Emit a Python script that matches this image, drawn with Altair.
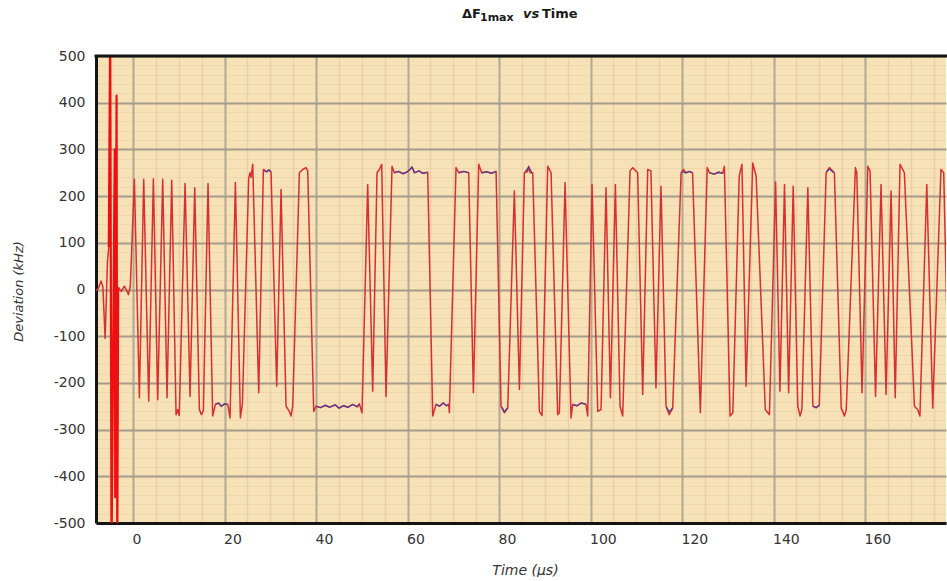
import altair as alt
import pandas as pd

# ---------------- data ----------------
# pre-burst noise (time in µs, deviation in kHz)
T_PRE = [-8.1, -7.6, -7.0, -6.6, -6.1, -5.6, -5.3]
V_PRE = [-3, 2, 18, 6, -105, 60, 90]

# start-up spike (clipped at ±500)
T_SPIKE = [-5.3, -5.0, -4.7, -4.0, -3.9, -3.6, -3.45, -3.25]
V_SPIKE = [90, 560, -560, 300, -445, 415, -560, 5]

# main red trace
T_MAIN = [
    -3.25, -2.6, -1.9, -1.5, -1.0, -0.6,
    0.29, 1.38, 2.33, 3.42, 4.44, 5.39, 6.48, 7.43, 8.45,
    9.4, 9.75, 10.1, 11.37, 12.46, 13.48, 14.5, 14.94, 15.37,
    16.39, 17.4, 18.0, 18.7, 19.3, 20.0, 20.7, 21.2,
    22.37, 23.46, 23.9, 25.28, 25.57, 25.8, 26.16, 27.47,
    28.49, 29.2, 29.7, 30.16, 31.4, 32.35,
    33.44, 34.17, 34.53, 34.9, 36.36, 37.08, 37.81, 38.18,
    39.49, 40.0, 41.0, 42.0, 43.0, 44.2, 45.0, 46.0, 47.0, 48.0, 49.0, 49.47, 50.05,
    51.29, 52.38, 53.33, 53.84, 54.35, 55.3,
    56.61, 57.12, 58.0, 59.0, 60.0, 61.0, 61.5, 62.5, 63.3, 64.41,
    65.5, 66.23, 67.0, 67.8, 68.5, 69.0, 69.14,
    70.6, 71.2, 72.3, 73.37, 74.39,
    75.56, 76.2, 77.3, 78.4, 79.35, 80.44, 81.17, 81.9,
    83.35, 84.45, 85.54, 86.2, 86.48, 86.8, 87.36,
    88.82, 89.4, 90.64, 91.37, 92.82, 93.19, 94.43,
    95.74, 96.1, 97.0, 98.0, 99.0, 99.38,
    100.33, 101.57, 102.3, 103.39,
    104.34, 105.43, 106.45, 107.03,
    108.64, 109.2, 110.3, 111.4, 112.5, 113.2, 114.3, 115.4,
    116.5, 117.2, 117.96,
    119.8, 120.3, 120.9, 121.6, 122.3, 124.0,
    125.5, 126.0, 127.0, 128.0, 128.9, 129.26,
    130.5, 131.1, 132.5, 133.1, 134.0, 135.45, 136.2,
    138.2, 139.1, 140.45,
    141.4, 142.4, 143.3, 144.3,
    145.3, 145.8, 146.2, 147.5,
    148.6, 149.3, 150.0, 151.5, 152.2, 153.3,
    154.8, 155.5, 155.9, 157.9, 158.2, 159.35,
    160.6, 161.1, 162.3, 163.5, 164.6, 165.7, 166.6,
    167.65, 168.6, 170.8, 171.5, 172.0,
    173.5, 174.8, 176.6, 177.2, 177.9,
]
V_MAIN = [
    5, -4, 7, 0, -11, 7,
    236, -232, 236, -239, 237, -236, 236, -232, 234,
    -268, -257, -270, 227, -229, 218, -257, -268, -259,
    227, -271, -246, -243, -250, -245, -246, -275,
    229, -275, -245, 239, 250, 240, 268, -221,
    257, 252, 256, 252, -207, 214,
    -250, -261, -271, -250, 250, 257, 261, 254,
    -261, -250, -253, -248, -252, -247, -254, -249, -252, -246, -251, -245, -264,
    225, -218, 250, 257, 268, -229,
    264, 250, 253, 248, 252, 262, 250, 254, 249, 251,
    -271, -246, -250, -243, -249, -246, -264,
    261, 250, 253, 250, -221,
    268, 250, 252, 249, 253, -250, -264, -254,
    211, -214, 250, 252, 264, 250, 250,
    -261, -270, 264, 250, -268, -264, 229,
    -275, -246, -249, -243, -246, -271,
    225, -261, -257, 218,
    -232, 225, -250, -271,
    254, 261, 250, -225, 257, 254, -211, 221,
    -250, -268, -254,
    250, 257, 250, 253, 250, -264,
    261, 250, 247, 251, 249, 264,
    -271, -264, 243, 268, -207, 271, 243,
    -257, -268, 230,
    -218, 225, -221, 221,
    -250, -271, -257, 218,
    -250, -253, -248, 250, 261, 250,
    -254, -271, -257, 261, 250, -221,
    264, 254, -229, 225, -225, 211, -232,
    268, 250, -250, -257, -271,
    225, -254, 257, 250, -60,
]

# second (blue/purple) trace, visible on the flat parts
P_SEG = [1] * 5 + [2] * 4 + [3] * 11 + [4] * 9 + [5] * 5 + [6] * 3 + [7] * 4 + [8] * 3 \
    + [9] * 4 + [10] * 4 + [11] * 4 + [12] * 3 + [13] * 3 + [14] * 3 + [15] * 3
P_T = [
    18.0, 18.7, 19.3, 20.0, 20.7,
    28.6, 29.2, 29.7, 30.1,
    40.0, 41.0, 42.0, 43.0, 44.2, 45.0, 46.0, 47.0, 48.0, 49.0, 49.4,
    57.1, 58.0, 59.0, 60.0, 61.0, 61.5, 62.5, 63.3, 64.3,
    66.3, 67.0, 67.8, 68.5, 69.0,
    71.2, 72.3, 73.3,
    76.2, 77.3, 78.4, 79.3,
    80.6, 81.2, 81.8,
    96.1, 97.0, 98.0, 99.0,
    120.0, 120.9, 121.6, 122.2,
    126.0, 127.0, 128.0, 128.9,
    148.7, 149.3, 150.0,
    116.6, 117.2, 117.9,
    151.6, 152.2, 153.2,
    85.7, 86.48, 87.2,
]
P_V = [
    -246, -243, -250, -245, -246,
    255, 252, 256, 252,
    -250, -253, -248, -252, -247, -254, -249, -252, -246, -251, -246,
    250, 253, 248, 252, 262, 250, 254, 249, 251,
    -246, -250, -243, -249, -246,
    250, 253, 250,
    250, 252, 249, 253,
    -252, -262, -254,
    -246, -249, -243, -246,
    252, 250, 253, 250,
    250, 247, 251, 249,
    -250, -253, -248,
    -252, -262, -254,
    252, 258, 250,
    252, 262, 250,
]

X_TICKS = list(range(-5, 180, 5))      # grid every 5 µs, labels every 20
Y_TICKS = list(range(-500, 501, 20))   # grid every 20 kHz, labels every 100

# ---------------- tables ----------------
red_rows = []
for part, ts, vs, col, w in [
    ("pre", T_PRE, V_PRE, "#d63030", 1.5),
    ("spike", T_SPIKE, V_SPIKE, "#ee1010", 2.2),
    ("main", T_MAIN, V_MAIN, "#d63030", 1.5),
]:
    for i, (t, v) in enumerate(zip(ts, vs)):
        red_rows.append({"part": part, "t": t, "v": v, "c": col, "w": w, "o": i})
red_df = pd.DataFrame(red_rows)
blue_df = pd.DataFrame({"seg": P_SEG, "t": P_T, "v": P_V})

FONT = "DejaVu Sans"
MAJ_X = "datum.value % 20 === 0"
MAJ_Y = "datum.value % 100 === 0"

x_axis = alt.Axis(
    values=X_TICKS,
    title="Time (μs)",
    labelExpr=f"{MAJ_X} ? '' + datum.value : ''",
    labelAlign="left", labelOffset=-1, labelPadding=9,
    labelFont=FONT, labelFontSize=14, labelColor="#333333",
    labelOverlap=False, labelFlush=False,
    ticks=False,
    domainColor="#141414", domainWidth=3,
    gridColor={"condition": {"test": MAJ_X, "value": "#b1a795"}, "value": "#eccfa6"},
    gridWidth={"condition": {"test": MAJ_X, "value": 2}, "value": 1.5},
    titleFont=FONT, titleFontSize=14, titleFontStyle="italic", titleFontWeight="normal",
    titleColor="#333333", titleX=429, titleY=47, titleBaseline="middle", titleAlign="center",
)
y_axis = alt.Axis(
    values=Y_TICKS,
    title="Deviation (kHz)",
    labelExpr=f"{MAJ_Y} ? '' + datum.value : ''",
    labelPadding=11, labelBaseline="middle",
    labelFont=FONT, labelFontSize=14, labelColor="#333333",
    labelOverlap=False, labelFlush=False,
    ticks=False,
    domainColor="#141414", domainWidth=3,
    gridColor={"condition": {"test": MAJ_Y, "value": "#a59b8b"}, "value": "#d9b98a"},
    gridOpacity={"condition": {"test": MAJ_Y, "value": 1}, "value": 0.25},
    gridWidth={"condition": {"test": MAJ_Y, "value": 2}, "value": 1},
    titleFont=FONT, titleFontSize=13, titleFontStyle="italic", titleFontWeight="normal",
    titleColor="#333333", titleX=-78, titleY=235, titleAngle=270,
    titleBaseline="middle", titleAlign="center",
)

X = alt.X("t:Q", scale=alt.Scale(domain=[-8.1, 177.7], nice=False, zero=False), axis=x_axis)
Y = alt.Y("v:Q", scale=alt.Scale(domain=[-500, 500], nice=False, zero=False), axis=y_axis)

red = alt.Chart(red_df).mark_line(clip=True, strokeJoin="round").encode(
    x=X, y=Y,
    detail="part:N",
    order="o:Q",
    color=alt.Color("c:N", scale=None),
    strokeWidth=alt.StrokeWidth("w:Q", scale=None),
)

blue = alt.Chart(blue_df).mark_line(clip=True, color="#5a3c92", strokeWidth=1.3).encode(
    x=X, y=Y, detail="seg:N",
)

one = pd.DataFrame({"a": [0]})
top_frame = alt.Chart(one).mark_rule(color="#141414", strokeWidth=3).encode(
    x=alt.value(-1.5), x2=alt.value(851), y=alt.value(0)
)

def title_part(txt, x, y, size, style="normal"):
    return alt.Chart(pd.DataFrame({"s": [txt]})).mark_text(
        align="left", baseline="alphabetic", font=FONT, fontSize=size,
        fontWeight="bold", fontStyle=style, color="#1a1a1a",
    ).encode(text="s:N", x=alt.value(x), y=alt.value(y))

title = (
    title_part("ΔF", 366, -38.5, 13)
    + title_part("1max", 384, -35, 11)
    + title_part("vs", 427, -38.5, 13, "italic")
    + title_part("Time", 446, -38.5, 13)
)

chart = alt.layer(red, blue, top_frame, title).properties(
    width=850, height=467,
    padding={"left": 96, "top": 56, "right": 1, "bottom": 54},
    autosize=alt.AutoSizeParams(type="none"),
    background="white",
).configure_view(stroke=None, fill="#f7e1b7")

chart.save("out.html", embed_options={"renderer": "svg", "actions": False})
